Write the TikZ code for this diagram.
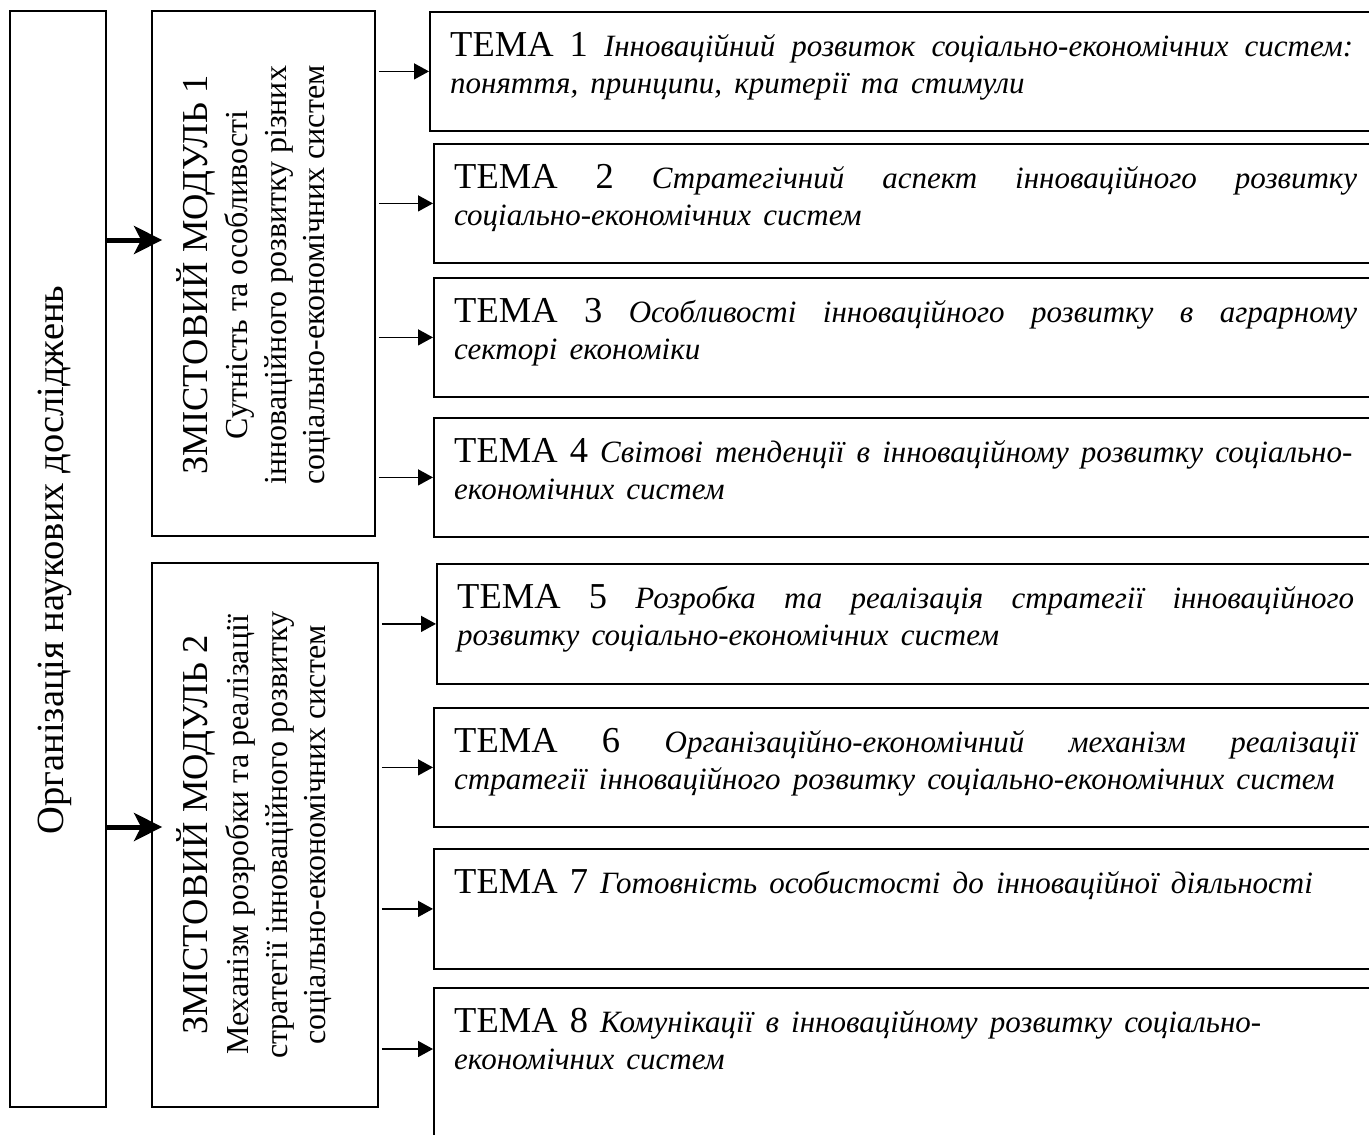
\documentclass[tikz,border=0pt]{standalone}
\usepackage{fontspec}
\setmainfont{Liberation Serif}
\usetikzlibrary{arrows.meta}
\newcommand{\bigFont}{\fontsize{36.5}{37}\selectfont}
\newcommand{\orgFont}{\fontsize{38.5}{40}\selectfont}
\newcommand{\subFont}{\fontsize{32}{37}\selectfont}
\newcommand{\temaName}[1]{{\fontsize{31}{37}\selectfont\itshape #1}}
\newcommand{\fullLine}[2][903pt]{\hbox to #1{\spaceskip = 8pt plus 1fil\relax #2}}
\newcommand{\temaNode}[5]{
	\node[temabox, minimum height = #4] (#1) at (#2, #3) {};
	\node[tematext] (#1text) at ([xshift = 21pt, yshift = -45pt] #1.north west) {#5};
}
\tikzset{
	box/.style = {draw, line width = 1.8pt, inner sep = 0pt},
	temabox/.style = {box, anchor = north west, minimum width = 1000pt},
	tematext/.style = {anchor = base west, inner sep = 0pt, text width = 960pt, align = left, font = \bigFont},
	modtext/.style = {rotate = 90, anchor = base, inner sep = 0pt},
	bigarrow/.style = {line width = 5pt, -{Stealth[length = 28pt, width = 28pt, inset = 7pt]}},
	temaarrow/.style = {line width = 1.5pt, -{Triangle[length = 15pt, width = 16pt]}},
}

\begin{document}
\begin{tikzpicture}[x = 1pt, y = -1pt]%

		\useasboundingbox (0, 0) rectangle (1369, 1135);
		\clip (0, 0) rectangle (1369, 1135);

		% research organisation
		\node[box, minimum width = 96pt, minimum height = 1096pt] (org) at (58, 559) {};
		\node[modtext, font = \orgFont] (orgtext) at (63, 560) {Організація наукових досліджень};

		% module 1
		\node[box, minimum width = 223pt, minimum height = 525pt] (m1) at (263.5, 273.5) {};
		\node[modtext, font = \bigFont] (m1title) at (207, 275) {ЗМІСТОВИЙ МОДУЛЬ 1};
		\node[modtext, font = \subFont] (m1a) at (247, 275) {Сутність та особливості};
		\node[modtext, font = \subFont] (m1b) at (286, 275) {інноваційного розвитку різних};
		\node[modtext, font = \subFont] (m1c) at (324, 275) {соціально-економічних систем};

		% module 2
		\node[box, minimum width = 226pt, minimum height = 544pt] (m2) at (265, 835) {};
		\node[modtext, font = \bigFont] (m2title) at (207, 835) {ЗМІСТОВИЙ МОДУЛЬ 2};
		\node[modtext, font = \subFont] (m2a) at (248, 835) {Механізм розробки та реалізації};
		\node[modtext, font = \subFont] (m2b) at (287, 835) {стратегії інноваційного розвитку};
		\node[modtext, font = \subFont] (m2c) at (325, 835) {соціально-економічних систем};

		% topics of module 1
		\temaNode{t1}{429}{11}{119pt}{\fullLine{ТЕМА 1 \temaName{Інноваційний розвиток соціально-економічних систем:}}\\
			\temaName{поняття, принципи, критерії та стимули}}
		\temaNode{t2}{433}{143}{119pt}{\fullLine{ТЕМА 2 \temaName{Стратегічний аспект інноваційного розвитку}}\\
			\temaName{соціально-економічних систем}}
		\temaNode{t3}{433}{277}{119pt}{\fullLine{ТЕМА 3 \temaName{Особливості інноваційного розвитку в аграрному}}\\
			\temaName{секторі економіки}}
		\temaNode{t4}{433}{417}{119pt}{ТЕМА 4 \temaName{Світові тенденції в інноваційному розвитку соціально-}\\
			\temaName{економічних систем}}

		% topics of module 2
		\temaNode{t5}{436}{563}{120pt}{\fullLine[897pt]{ТЕМА 5 \temaName{Розробка та реалізація стратегії інноваційного}}\\
			\temaName{розвитку соціально-економічних систем}}
		\temaNode{t6}{433}{707}{119pt}{\fullLine{ТЕМА 6 \temaName{Організаційно-економічний механізм реалізації}}\\
			\temaName{стратегії інноваційного розвитку соціально-економічних систем}}
		\temaNode{t7}{433}{848}{120pt}{ТЕМА 7 \temaName{Готовність особистості до інноваційної діяльності}}
		\temaNode{t8}{433}{987}{300pt}{ТЕМА 8 \temaName{Комунікації в інноваційному розвитку соціально-}\\
			\temaName{економічних систем}}

		% arrows
		\coordinate (lvl1) at (0, 240);
		\coordinate (lvl2) at (0, 827);
		\coordinate (t8in) at ([yshift = -62pt] t8.north west);
		\draw[bigarrow] (org.east |- lvl1) -- ([xshift = 11pt] m1.west |- lvl1);
		\draw[bigarrow] (org.east |- lvl2) -- ([xshift = 11pt] m2.west |- lvl2);
		\foreach \t in {t1, t2, t3, t4}
			\draw[temaarrow] ([xshift = 3pt] m1.east |- \t.west) -- (\t.west);
		\foreach \t in {t5, t6, t7}
			\draw[temaarrow] ([xshift = 3pt] m2.east |- \t.west) -- (\t.west);
		\draw[temaarrow] ([xshift = 3pt] m2.east |- t8in) -- (t8in);

	\end{tikzpicture}
\end{document}
